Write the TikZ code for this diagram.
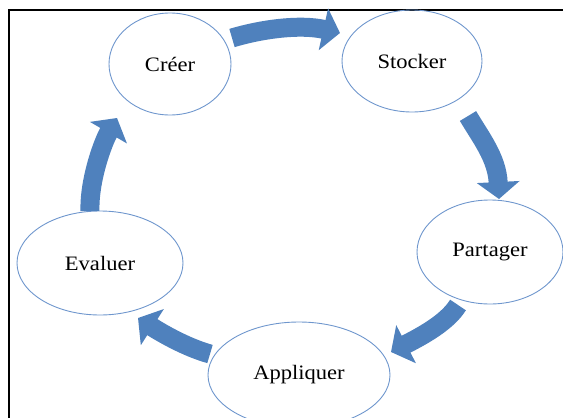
\documentclass[tikz,border=0pt]{standalone}
\usepackage{fontspec}
\setmainfont{Liberation Serif}[FakeStretch=1.1]
\usetikzlibrary{shapes.geometric,arrows.meta}
\definecolor{arr}{RGB}{79,129,189}
\definecolor{ell}{RGB}{110,150,205}
\begin{document}
\begin{tikzpicture}[x=1pt,y=-1pt,
  stage/.style={ellipse, draw=ell, line width=0.9pt, inner sep=0pt, font=\fontsize{20.5}{24}\selectfont},
  flow/.style={draw=arr, line width=19pt, -{Triangle[width=42pt,length=17pt]}}]
\useasboundingbox (0,0) rectangle (563,418);
\clip (0,0) rectangle (563,418);
\draw[line width=1.2pt] (9,418) -- (9,10) -- (563,10);
\node[stage, minimum width=122pt, minimum height=102pt] (cr) at (170,64) {Créer};
\node[stage, minimum width=140pt, minimum height=102pt] (st) at (412,61) {Stocker};
\node[stage, minimum width=146pt, minimum height=104pt] (pa) at (490,252) {Partager};
\node[stage, minimum width=182pt, minimum height=106pt] (ap) at (299,375) {Appliquer};
\node[stage, minimum width=166pt, minimum height=104pt] (ev) at (100,263) {Evaluer};
\coordinate (a1s) at (232,38); \coordinate (a1e) at (340,33);
\coordinate (a2s) at (468,116); \coordinate (a2e) at (499,199);
\coordinate (a3s) at (458,305); \coordinate (a3e) at (391,352);
\coordinate (a4s) at (210,354); \coordinate (a4e) at (138,318);
\coordinate (a5s) at (90,211); \coordinate (a5e) at (117,118);
\draw[flow] (a1s) .. controls (262,29) and (300,24) .. (a1e);
\draw[flow] (a2s) .. controls (481,138) and (497,158) .. (a2e);
\draw[flow] (a3s) .. controls (447,323) and (420,337) .. (a3e);
\draw[flow] (a4s) .. controls (185,347) and (160,332) .. (a4e);
\draw[flow] (a5s) .. controls (89,180) and (103,142) .. (a5e);
\end{tikzpicture}
\end{document}
